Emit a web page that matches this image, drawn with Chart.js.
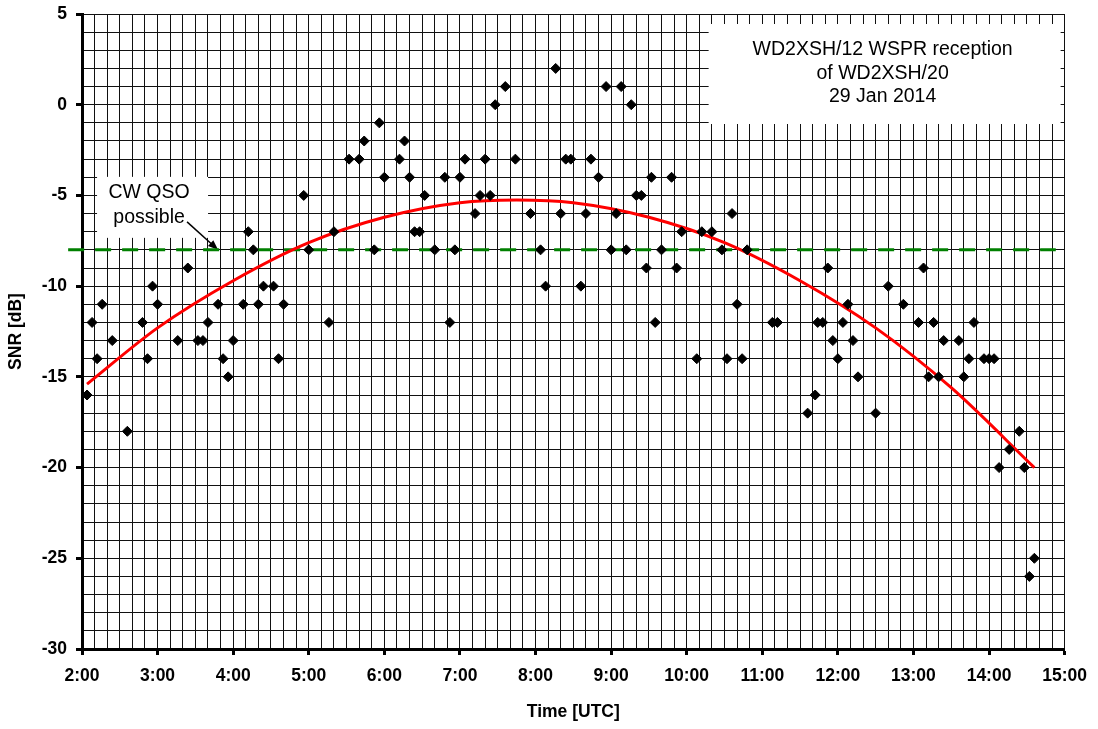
<!DOCTYPE html>
<html>
<head>
<meta charset="utf-8">
<title>WD2XSH WSPR reception</title>
<script src="https://cdn.jsdelivr.net/npm/chart.js@4.4.1/dist/chart.umd.min.js"></script>
<style>
  html, body { margin: 0; padding: 0; background: #fff; }
  #wrap { width: 1098px; height: 729px; }
</style>
</head>
<body>
<div id="wrap"><canvas id="snrChart"></canvas></div>
<script>
// WSPR spots, time (UTC) and SNR in dB
const spotTimes = [
  '2:04', '2:08', '2:12', '2:16', '2:24', '2:36', '2:48', '2:52', '2:56', '3:00',
  '3:16', '3:24', '3:32', '3:36', '3:40', '3:48', '3:52', '3:56', '4:00', '4:08',
  '4:12', '4:16', '4:20', '4:24', '4:32', '4:36', '4:40', '4:56', '5:00', '5:16',
  '5:20', '5:32', '5:40', '5:44', '5:52', '5:56', '6:00', '6:12', '6:16', '6:20',
  '6:24', '6:28', '6:32', '6:40', '6:48', '6:52', '6:56', '7:00', '7:04', '7:12',
  '7:16', '7:20', '7:24', '7:28', '7:36', '7:44', '7:56', '8:04', '8:08', '8:16',
  '8:20', '8:24', '8:28', '8:36', '8:40', '8:44', '8:50', '8:56', '9:00', '9:04',
  '9:08', '9:12', '9:16', '9:20', '9:24', '9:28', '9:32', '9:35', '9:40', '9:48',
  '9:52', '9:56', '10:08', '10:12', '10:20', '10:28', '10:32', '10:36', '10:40', '10:44',
  '10:48', '11:08', '11:12', '11:36', '11:42', '11:44', '11:48', '11:52', '11:56', '12:00',
  '12:04', '12:08', '12:12', '12:16', '12:30', '12:40', '12:52', '13:04', '13:08', '13:12',
  '13:16', '13:20', '13:24', '13:36', '13:40', '13:44', '13:48', '13:56', '14:00', '14:04',
  '14:08', '14:16', '14:24', '14:28', '14:32', '14:36'
];
const spotSnr = [
  -16, -12, -14, -11, -13, -18, -12, -14, -10, -11,
  -13, -9, -13, -13, -12, -11, -14, -15, -13, -11,
  -7, -8, -11, -10, -10, -14, -11, -5, -8, -12,
  -7, -3, -3, -2, -8, -1, -4, -3, -2, -4,
  -7, -7, -5, -8, -4, -12, -8, -4, -3, -6,
  -5, -3, -5, 0, 1, -3, -6, -8, -10, 2,
  -6, -3, -3, -10, -6, -3, -4, 1, -8, -6,
  1, -8, 0, -5, -5, -9, -4, -12, -8, -4,
  -9, -7, -14, -7, -7, -8, -14, -6, -11, -14,
  -8, -12, -12, -17, -16, -12, -12, -9, -13, -14,
  -12, -11, -13, -15, -17, -10, -11, -12, -9, -15,
  -12, -15, -13, -13, -15, -14, -12, -14, -14, -14,
  -20, -19, -18, -20, -26, -25
];

// trend curve
const trendTimes = ['2:04', '3:00', '4:00', '5:00', '6:00', '7:00', '7:45', '8:30', '9:30', '10:30', '11:30', '12:30', '13:30', '14:36'];
const trendSnr = [-15.4, -12.3, -9.7, -7.6, -6.2, -5.4, -5.25, -5.4, -6.2, -7.6, -9.7, -12.3, -15.6, -20.0];

// CW QSO threshold
const cwLimit = -8;
const cwLineTimes = ['1:49', '14:53'];
const cwArrowTime = '3:48';

const titleLines = ['WD2XSH/12 WSPR reception', 'of WD2XSH/20', '29 Jan 2014'];
const noteLines = ['CW QSO', 'possible'];

function toMin(t) {
  const p = t.split(':');
  return Number(p[0]) * 60 + Number(p[1]);
}

const spotPoints = spotTimes.map((t, i) => ({ x: toMin(t), y: spotSnr[i] }));
const trendPoints = trendTimes.map((t, i) => ({ x: toMin(t), y: trendSnr[i] }));
const cwPoints = cwLineTimes.map(t => ({ x: toMin(t), y: cwLimit }));

const FONT = 'Arial, "Liberation Sans", sans-serif';
Chart.defaults.font.family = FONT;
Chart.defaults.color = '#000';

// text boxes and arrow
const notesPlugin = {
  id: 'notes',
  beforeDatasetsDraw(chart) {
    const { ctx, chartArea, scales } = chart;
    ctx.save();

    // title box, top right
    const bx = chartArea.right - 356, by = chartArea.top + 10;
    ctx.fillStyle = '#fff';
    ctx.fillRect(bx, by, 352, 100);
    ctx.fillStyle = '#000';
    ctx.font = '19.5px ' + FONT;
    ctx.textAlign = 'center';
    ctx.textBaseline = 'middle';
    titleLines.forEach((line, i) => {
      ctx.fillText(line, bx + 174, by + 26 + i * 23.5);
    });

    // CW QSO note with arrow
    const tx = scales.x.getPixelForValue(toMin(cwArrowTime));
    const ty = scales.y.getPixelForValue(cwLimit);
    ctx.fillStyle = '#fff';
    ctx.fillRect(tx - 121, ty - 73, 111, 61);
    ctx.fillStyle = '#000';
    noteLines.forEach((line, i) => {
      ctx.fillText(line, tx - 69, ty - 57 + i * 25);
    });

    const sx = tx - 31, sy = ty - 28;
    const ang = Math.atan2(ty - sy, tx - sx);
    ctx.strokeStyle = '#000';
    ctx.lineWidth = 1.5;
    ctx.beginPath();
    ctx.moveTo(sx, sy);
    ctx.lineTo(tx - 8 * Math.cos(ang), ty - 8 * Math.sin(ang));
    ctx.stroke();
    ctx.beginPath();
    ctx.moveTo(tx, ty);
    ctx.lineTo(tx - 10 * Math.cos(ang) + 4 * Math.sin(ang), ty - 10 * Math.sin(ang) - 4 * Math.cos(ang));
    ctx.lineTo(tx - 10 * Math.cos(ang) - 4 * Math.sin(ang), ty - 10 * Math.sin(ang) + 4 * Math.cos(ang));
    ctx.closePath();
    ctx.fill();
    ctx.restore();
  }
};

new Chart(document.getElementById('snrChart'), {
  type: 'scatter',
  data: {
    datasets: [
      {
        label: 'SNR',
        data: spotPoints,
        backgroundColor: '#000',
        borderColor: '#000',
        pointStyle: 'rectRot',
        pointRadius: 5,
        pointHoverRadius: 5
      },
      {
        label: 'Trend',
        data: trendPoints,
        showLine: true,
        borderColor: '#ff0000',
        borderWidth: 3,
        pointRadius: 0,
        cubicInterpolationMode: 'monotone'
      },
      {
        label: 'CW QSO possible',
        data: cwPoints,
        showLine: true,
        borderColor: '#008000',
        borderWidth: 3,
        borderDash: [16, 11],
        pointRadius: 0,
        clip: false
      }
    ]
  },
  options: {
    responsive: true,
    maintainAspectRatio: false,
    animation: false,
    layout: { padding: { left: 0, top: 14, right: 31, bottom: 0 } },
    plugins: {
      legend: { display: false },
      tooltip: { enabled: false }
    },
    scales: {
      x: {
        type: 'linear',
        min: 120,
        max: 900,
        afterFit: s => { s.height = 80; },
        border: { display: true, color: '#000', width: 3 },
        grid: {
          color: '#111',
          lineWidth: 1,
          tickLength: 6,
          tickColor: c => (c.tick && c.tick.value % 60 === 0 ? '#000' : 'rgba(0,0,0,0)'),
          tickWidth: c => (c.tick && c.tick.value % 60 === 0 ? 3 : 1)
        },
        ticks: {
          stepSize: 10,
          autoSkip: false,
          maxRotation: 0,
          padding: 11,
          font: { size: 17.5, weight: 'bold' },
          callback: v => (v % 60 === 0 ? (v / 60) + ':00' : '')
        },
        title: {
          display: true,
          text: 'Time [UTC]',
          font: { size: 17.5, weight: 'bold' },
          padding: { top: 0, bottom: 6 }
        }
      },
      y: {
        min: -30,
        max: 5,
        afterFit: s => { s.width = 82; s.paddingTop = 0; s.paddingBottom = 0; },
        border: { display: true, color: '#000', width: 3 },
        grid: {
          color: '#111',
          lineWidth: 1,
          tickLength: 6,
          tickColor: c => (c.tick && c.tick.value % 5 === 0 ? '#000' : 'rgba(0,0,0,0)'),
          tickWidth: c => (c.tick && c.tick.value % 5 === 0 ? 3 : 1)
        },
        ticks: {
          stepSize: 1,
          autoSkip: false,
          padding: 9,
          font: { size: 17.5, weight: 'bold' },
          callback: v => (v % 5 === 0 ? String(v) : '')
        },
        title: {
          display: true,
          text: 'SNR [dB]',
          font: { size: 17.5, weight: 'bold' },
          padding: { top: 6, bottom: 0 }
        }
      }
    }
  },
  plugins: [notesPlugin]
});
</script>
</body>
</html>
